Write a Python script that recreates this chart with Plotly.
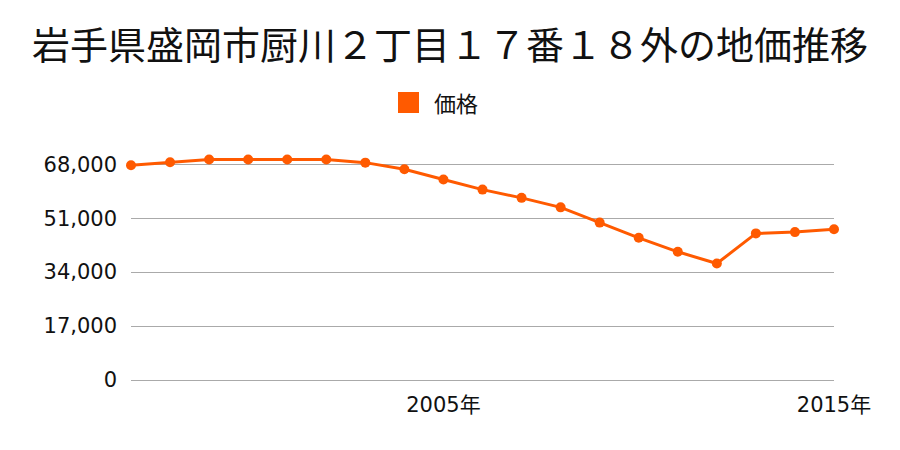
import plotly.graph_objects as go

years = list(range(1997, 2016))
prices = [67700, 68600, 69500, 69500, 69500, 69500, 68500, 66400, 63200, 60000,
          57400, 54400, 49600, 44800, 40400, 36700, 46200, 46600, 47500]
ytick_vals = [0, 17000, 34000, 51000, 68000]
ytick_text = ["0", "17,000", "34,000", "51,000", "68,000"]
xtick_vals = [2005, 2015]
xtick_text = ["2005年", "2015年"]

title = "岩手県盛岡市厨川２丁目１７番１８外の地価推移"
series_name = "価格"
color = "#ff5a00"
cjk = "Noto Sans CJK JP"
tickfam = "DejaVu Sans, Noto Sans CJK JP"

W, H = 900, 450
L, R, T, B = 131, 66, 142, 70
pw, ph = W - L - R, H - T - B


def px_x(p):
    return (p - L) / pw


def px_y(p):
    return (H - B - p) / ph


fig = go.Figure()
fig.add_trace(go.Scatter(
    x=years, y=prices, mode="lines+markers", name=series_name,
    line=dict(color=color, width=3),
    marker=dict(color=color, size=10),
    cliponaxis=False, showlegend=False,
))

# legend swatch + label
fig.add_shape(type="rect", xref="paper", yref="paper",
              x0=px_x(398), x1=px_x(419), y0=px_y(113), y1=px_y(92),
              fillcolor=color, line=dict(width=0))
fig.add_annotation(xref="paper", yref="paper", x=px_x(432), y=px_y(102),
                   xanchor="left", yanchor="middle", text=series_name, showarrow=False,
                   font=dict(size=22, family=cjk, color="#111111"))

fig.update_layout(
    width=W, height=H,
    paper_bgcolor="white", plot_bgcolor="white",
    margin=dict(l=L, r=R, t=T, b=B, autoexpand=False),
    font=dict(family=cjk, color="#111111"),
    title=dict(text=title, x=0.5, xanchor="center", y=0.898, yanchor="middle",
               yref="container", font=dict(size=38, family=cjk, color="#111111")),
    showlegend=False,
    xaxis=dict(range=[1997, 2015], tickvals=xtick_vals, ticktext=xtick_text,
               showgrid=False, zeroline=False, showline=False, automargin=False,
               tickfont=dict(size=21, family=tickfam), ticks="", ticklabelstandoff=10),
    yaxis=dict(range=[0, 75000], tickvals=ytick_vals, ticktext=ytick_text,
               showgrid=True, gridcolor="#aaaaaa", gridwidth=1,
               zeroline=True, zerolinecolor="#aaaaaa", zerolinewidth=1,
               showline=False, automargin=False,
               tickfont=dict(size=21, family=tickfam), ticks="", ticklabelstandoff=13),
)

fig.write_html("out.html", config={"displayModeBar": False},
               post_script="document.body.style.margin='0px';")
